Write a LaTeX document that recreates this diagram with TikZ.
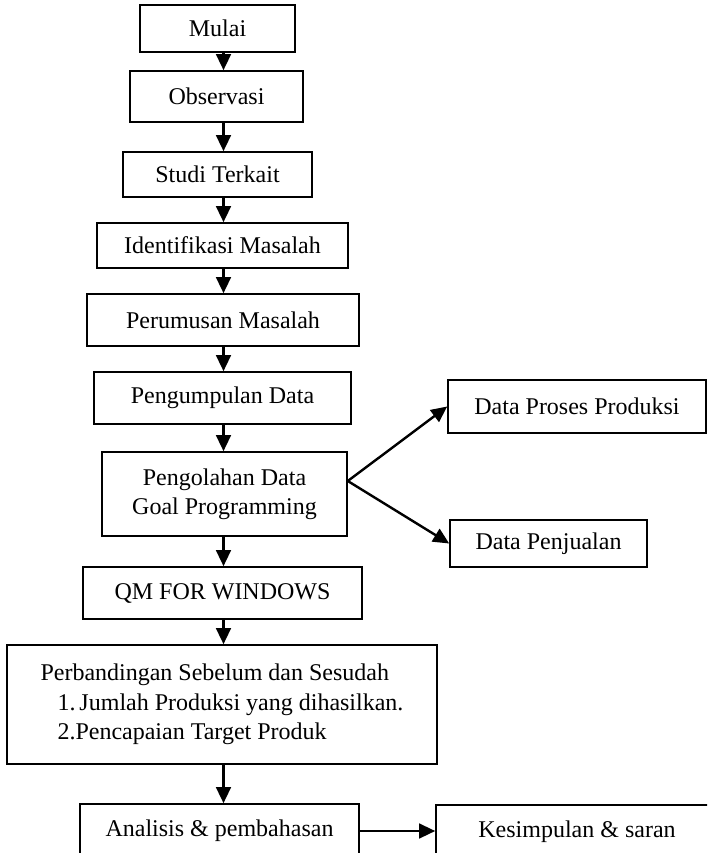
\documentclass[tikz,border=0pt]{standalone}
\usepackage{fontspec}
\setmainfont{Liberation Serif}
\usetikzlibrary{arrows.meta}
\tikzset{every picture/.style={line width=0.75pt}}
\tikzset{
  kotak/.style={draw, line width=1.2pt, inner sep=0pt, font=\fontsize{18}{22}\selectfont, align=center},
  panah/.style={line width=1.8pt, -{Triangle[length=12pt,width=11pt]}}
}

\begin{document}
\begin{tikzpicture}[x=0.75pt,y=0.75pt,yscale=-1,xscale=1]
\useasboundingbox (0,0) rectangle (707,853);
\clip (0,0) rectangle (707,853);

%Axis of the main column
\coordinate (poros) at (223.5,0);

%Shape: Rectangle [mulai]
\node [kotak, minimum width=116.25pt, minimum height=35.25pt] (mulai) at (217.5,28.5) {Mulai};
%Shape: Rectangle [observasi]
\node [kotak, minimum width=129.75pt, minimum height=38.25pt] (obs) at (216.5,96.5) {Observasi};
%Shape: Rectangle [studi]
\node [kotak, minimum width=141.75pt, minimum height=33.75pt] (studi) at (217.5,174.5) {Studi Terkait};
%Shape: Rectangle [identifikasi]
\node [kotak, minimum width=188.25pt, minimum height=33.75pt] (ident) at (222.5,245.5) {Identifikasi Masalah};
%Shape: Rectangle [perumusan]
\node [kotak, minimum width=204pt, minimum height=39pt] (rumus) at (223,320) {Perumusan Masalah};
%Shape: Rectangle [pengumpulan]
\node [kotak, minimum width=192.75pt, minimum height=39pt] (kumpul) at (222.5,398) {Pengumpulan Data};
%Shape: Rectangle [pengolahan]
\node [kotak, minimum width=183.75pt, minimum height=63pt] (olah) at (224.5,494) {Pengolahan Data\\Goal Programming};
%Shape: Rectangle [qm]
\node [kotak, minimum width=209.25pt, minimum height=39pt] (qm) at (222.5,593) {QM FOR WINDOWS};
%Shape: Rectangle [perbandingan]
\node [kotak, align=left, minimum width=322.5pt, minimum height=89.25pt] (banding) at (222,704.5) {Perbandingan Sebelum dan Sesudah\\
\hspace*{12.75pt}1.\,Jumlah Produksi yang dihasilkan.\hspace*{-9.75pt}\\
\hspace*{12.75pt}2.Pencapaian Target Produk};
%Shape: Rectangle [analisis]
\node [kotak, minimum width=209.25pt, minimum height=40.5pt] (analisis) at (219.5,831) {Analisis \& pembahasan};
%Shape: Rectangle [kesimpulan]
\node [kotak, minimum width=211.5pt, minimum height=40.5pt] (simpul) at (577,832) {Kesimpulan \& saran};
%Shape: Rectangle [data proses]
\node [kotak, minimum width=193.5pt, minimum height=39.75pt] (proses) at (577,406.5) {Data Proses Produksi};
%Shape: Rectangle [data penjualan]
\node [kotak, minimum width=147.75pt, minimum height=35.25pt] (jual) at (548.5,543.5) {Data Penjualan};

%Straight Lines: main column
\draw [panah] (poros |- mulai.south) -- (poros |- obs.north);
\draw [panah] (poros |- obs.south) -- (poros |- studi.north);
\draw [panah] (poros |- studi.south) -- (poros |- ident.north);
\draw [panah] (poros |- ident.south) -- (poros |- rumus.north);
\draw [panah] (poros |- rumus.south) -- (poros |- kumpul.north);
\draw [panah] (poros |- kumpul.south) -- (poros |- olah.north);
\draw [panah] (poros |- olah.south) -- (poros |- qm.north);
\draw [panah] (poros |- qm.south) -- (poros |- banding.north);
\draw [panah] (poros |- banding.south) -- (poros |- analisis.north);
%Straight Lines: branches
\draw [panah] ([yshift=-9.75pt]olah.east) -- (proses.west);
\draw [panah] ([yshift=-9.75pt]olah.east) -- (jual.west);
\draw [panah] (analisis.east) -- (analisis.east -| simpul.west);

\end{tikzpicture}
\end{document}
